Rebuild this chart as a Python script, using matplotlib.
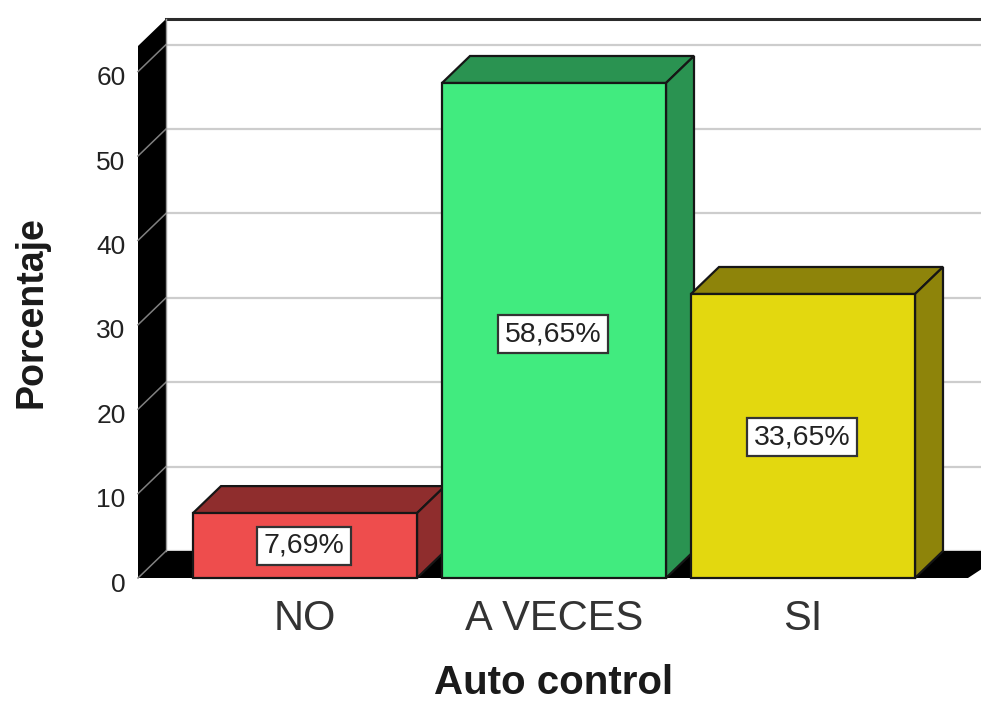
import matplotlib
matplotlib.use('Agg')
import matplotlib.pyplot as plt
from matplotlib.transforms import ScaledTranslation

plt.rcParams['font.family'] = ['Liberation Sans', 'DejaVu Sans']

categories = ['NO', 'A VECES', 'SI']
values = [7.69, 58.65, 33.65]
value_labels = ['7,69%', '58,65%', '33,65%']
label_heights = [3.8, 28.9, 16.7]
y_ticks = [0, 10, 20, 30, 40, 50, 60]

front_colors = ['#ee4d4d', '#41eb7f', '#e3d80f']
side_colors = ['#8f2d2d', '#2a9351', '#8e840a']
edge = '#161616'

fig = plt.figure(figsize=(9.81, 7.07), dpi=100)
ax = fig.add_axes([138 / 981, (707 - 578) / 707, 843 / 981, 532 / 707])

# scales: one category = 249 px, one percent = 8.44 px
ax.set_xlim((138 - 305) / 249, (981 - 305) / 249)
ax.set_ylim(0, 532 / 8.44)
y_top = 532 / 8.44
x_left = (138 - 305) / 249
x_right = (981 - 305) / 249
dx = 28 / 249
dy = 27 / 8.44
half = 112 / 249

# floor and left wall
ax.fill([x_left, x_left + dx, x_right + dx, x_right - 13 / 249], [0, dy, dy, 0],
        color='black', lw=0, zorder=1, clip_on=False)
ax.fill([x_left, x_left + dx, x_left + dx, x_left], [0, dy, y_top + dy, y_top],
        color='black', lw=0, zorder=1, clip_on=False)

# grid on back wall and its continuation over the left wall
for t in y_ticks:
    ax.plot([x_left + dx, x_right], [t + dy, t + dy], color='#cdcdcd', lw=1.6, zorder=0.5, clip_on=False)
    ax.plot([x_left, x_left + dx], [t, t + dy], color='#808080', lw=1.1, zorder=2, clip_on=False)
ax.plot([x_left + dx, x_right], [y_top + dy, y_top + dy], color='#2b2b2b', lw=2.2, zorder=2, clip_on=False)
ax.plot([x_left + dx, x_left + dx], [dy, y_top + dy], color='#9a9a9a', lw=1, zorder=2, clip_on=False)

# bars
for i, v in enumerate(values):
    z = 3 + i
    ax.fill([i - half, i - half + dx, i + half + dx, i + half], [v, v + dy, v + dy, v],
            facecolor=side_colors[i], edgecolor=edge, lw=1.6, zorder=z, clip_on=False)
    ax.fill([i + half, i + half + dx, i + half + dx, i + half], [0, dy, v + dy, v],
            facecolor=side_colors[i], edgecolor=edge, lw=1.6, zorder=z, clip_on=False)
    ax.bar(i, v, width=2 * half, color=front_colors[i], edgecolor=edge, lw=1.6, zorder=z, clip_on=False)
    ax.text(i - 1 / 249, label_heights[i], value_labels[i], ha='center', va='center', fontsize=20.5, color='#222222',
            zorder=10, bbox=dict(facecolor='white', edgecolor='#333333', lw=1.6, boxstyle='square,pad=0.22'))

ax.set_xticks(range(len(categories)))
ax.set_xticklabels(categories, fontsize=30, color='#333333')
ax.set_yticks(y_ticks)
ax.set_yticklabels([str(t) for t in y_ticks], fontsize=19, color='#222222')
ax.tick_params(axis='x', length=0, pad=15)
ax.tick_params(axis='y', length=0, pad=9)
# y labels sit a little under the front-plane gridline position
shift = ScaledTranslation(0, -4 / 100, fig.dpi_scale_trans)
for lab in ax.get_yticklabels():
    lab.set_transform(lab.get_transform() + shift)
for s in ax.spines.values():
    s.set_visible(False)

ax.set_xlabel('Auto control', fontsize=29, fontweight='bold', color='#1a1a1a', va='center')
ax.set_ylabel('Porcentaje', fontsize=27, fontweight='bold', color='#1a1a1a', va='center')
ax.xaxis.set_label_coords((554 - 138) / 843, (578 - 683) / 532)
ax.yaxis.set_label_coords((32 - 138) / 843, (578 - 312) / 532)

fig.savefig('out.png', dpi=100)
